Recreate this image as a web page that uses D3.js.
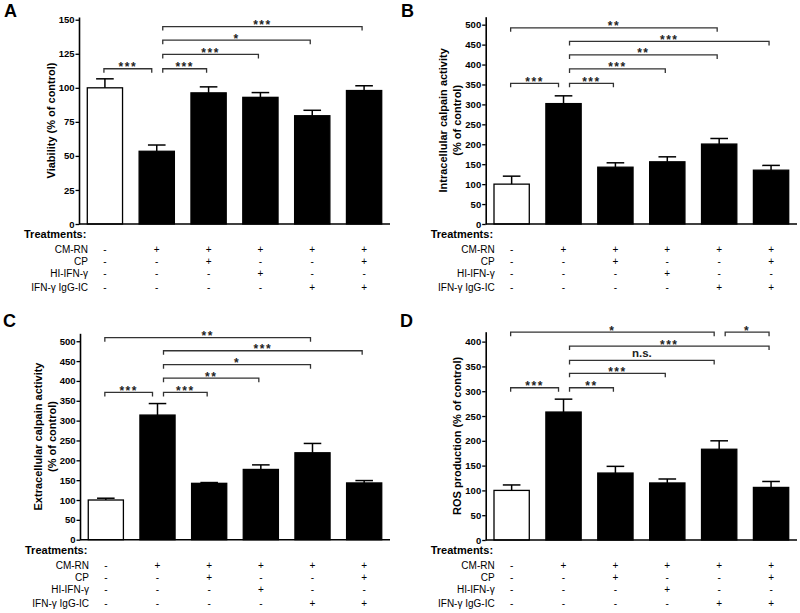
<!DOCTYPE html>
<html><head><meta charset="utf-8">
<script src="https://cdn.jsdelivr.net/npm/d3@7/dist/d3.min.js"></script>
<style>
body{margin:0;background:#fff;}
text{font-family:"Liberation Sans",Arial,sans-serif;}
</style></head>
<body><svg id="chart" width="800" height="613"></svg>
<script>
// ---------- data ----------
const groups = ["Control","CM-RN","CM-RN+CP","CM-RN+HI-IFN-γ","CM-RN+IFN-γ IgG-IC","CM-RN+CP+IFN-γ IgG-IC"];

const viabilityMean = [100, 53.4, 96.3, 93, 79.5, 98];
const viabilityErr  = [6.6, 4.6, 4.4, 3.5, 4, 3.5];
const viabilityTicks = [0, 25, 50, 75, 100, 125, 150];
const viabilitySig = [[0,1,114,"***"],[1,2,114,"***"],[1,3,124.5,"***"],[1,4,135,"*"],[1,5,145,"***"]];

const intraMean = [100, 302, 142.5, 156, 200.5, 135];
const intraErr  = [20, 19.5, 11, 12.5, 14, 12];
const intraTicks = [0,50,100,150,200,250,300,350,400,450,500];
const intraSig = [[0,1,353,"***"],[1,2,353,"***"],[1,3,389,"***"],[1,4,424,"**"],[1,5,458,"***"],[0,4,492,"**"]];

const extraMean = [100, 314, 142, 177, 219, 143];
const extraErr  = [4.5, 29, 2, 11.5, 23.5, 6];
const extraTicks = [0,50,100,150,200,250,300,350,400,450,500];
const extraSig = [[0,1,371,"***"],[1,2,371,"***"],[1,3,407,"**"],[1,4,441,"*"],[1,5,476,"***"],[0,4,509,"**"]];

const rosMean = [100, 258, 135, 115, 183, 106];
const rosErr  = [11, 26, 13.5, 8, 17, 12];
const rosTicks = [0,50,100,150,200,250,300,350,400];
const rosSig = [[0,1,307,"***"],[1,2,307,"**"],[1,3,336,"***"],[1,4,362,"n.s."],[1,5,391,"***"],[0,4,419,"*"],[4,5,419,"*"]];

const treatmentRows = ["CM-RN","CP","HI-IFN-γ","IFN-γ IgG-IC"];
const treatmentSigns = [
  ["-","+","+","+","+","+"],
  ["-","-","+","-","-","+"],
  ["-","-","-","+","-","-"],
  ["-","-","-","-","+","+"]
];

// ---------- drawing ----------
const svg = d3.select("#chart");

function drawPanel(p){
  const g = svg.append("g");
  const x = d3.scaleBand().domain(groups).range([p.x0, p.x1]).paddingInner(0.32).paddingOuter(0.16);
  const y = d3.scaleLinear().domain([0, p.yMax]).range([p.yBottom, p.yTop]);
  const cx = i => x(groups[i]) + x.bandwidth()/2;

  // panel letter
  g.append("text").attr("x", p.letterX).attr("y", p.letterY).text(p.letter)
    .style("font-size","18px").style("font-weight","bold");

  // bars
  g.selectAll("rect.bar").data(p.mean).enter().append("rect")
    .attr("x",(d,i)=>x(groups[i])).attr("width",x.bandwidth())
    .attr("y",d=>y(d)).attr("height",d=>y(0)-y(d))
    .attr("fill",(d,i)=>i===0?"#fff":"#000")
    .attr("stroke","#000").attr("stroke-width",1.3);

  // error bars (upper only)
  const capW = x.bandwidth()/2;
  p.mean.forEach((m,i)=>{
    const top = y(m+p.err[i]);
    g.append("line").attr("x1",cx(i)).attr("x2",cx(i)).attr("y1",y(m)).attr("y2",top)
      .attr("stroke","#000").attr("stroke-width",1.5);
    g.append("line").attr("x1",cx(i)-capW/2).attr("x2",cx(i)+capW/2).attr("y1",top).attr("y2",top)
      .attr("stroke","#000").attr("stroke-width",1.5);
  });

  // y axis
  const ay = g.append("g").attr("transform",`translate(${p.x0},0)`)
    .call(d3.axisLeft(y).tickValues(p.ticks).tickSize(3.5).tickSizeOuter(0).tickPadding(1));
  ay.select(".domain").attr("stroke-width",1.6);
  ay.selectAll(".tick line").attr("stroke-width",1.3);
  ay.selectAll(".tick text").style("font-size","9.5px").style("font-weight","bold")
    .style("font-family","Liberation Sans, Arial, sans-serif").attr("fill","#000");

  // x axis line
  g.append("line").attr("x1",p.x0).attr("x2",p.x1).attr("y1",y(0)).attr("y2",y(0))
    .attr("stroke","#000").attr("stroke-width",1.6);

  // y label
  const midY = (p.yBottom + p.yTop)/2;
  p.ylabel.forEach((t,k)=>{
    const lx = p.x0 - (p.ylabel.length===2 ? (k===0?42.5:28.5) : 28.5);
    g.append("text").attr("transform",`translate(${lx},${midY}) rotate(-90)`)
      .attr("text-anchor","middle").attr("dominant-baseline","central")
      .style("font-size","11px").style("font-weight","bold").text(t);
  });

  // significance brackets
  const starts = new Set(p.sig.map(s=>s[0]));
  const ends = new Set(p.sig.map(s=>s[1]));
  p.sig.forEach(s=>{
    const [a,b,lvl,lab] = s;
    const xa = cx(a) + (ends.has(a) ? 6 : -1);
    const xb = cx(b) - (starts.has(b) ? 5 : 2);
    const yy = y(lvl);
    g.append("path").attr("d",`M${xa},${yy+4}V${yy}H${xb}V${yy+4}`)
      .attr("fill","none").attr("stroke","#333").attr("stroke-width",1.3);
    const isStar = lab.indexOf("*")>=0;
    g.append("text").attr("x",(xa+xb)/2).attr("y", isStar ? yy+2.5 : yy-3)
      .attr("text-anchor","middle")
      .style("font-size", isStar ? "12px" : "11.5px").style("font-weight","bold")
      .style("letter-spacing", isStar ? "1.5px" : "0px")
      .attr("fill","#222").text(lab);
  });

  // treatments table
  const y0 = y(0);
  g.append("text").attr("x",p.x0-55).attr("y",y0+10).attr("dominant-baseline","central")
    .style("font-size","11px").style("font-weight","bold").text("Treatments:");
  const rowOff = [25.3, 37.5, 49.8, 63.8];
  treatmentRows.forEach((r,ri)=>{
    g.append("text").attr("x",p.x0+9).attr("y",y0+rowOff[ri]).attr("dominant-baseline","central")
      .attr("text-anchor","end").style("font-size","10px").text(r);
    treatmentSigns[ri].forEach((sg,ci)=>{
      g.append("text").attr("x",cx(ci)).attr("y",y0+rowOff[ri]).attr("dominant-baseline","central")
        .attr("text-anchor","middle").style("font-size","10px").text(sg);
    });
  });
}

drawPanel({letter:"A", letterX:4, letterY:17, x0:79, x1:390, yTop:17, yBottom:224, yMax:152,
  mean:viabilityMean, err:viabilityErr, ticks:viabilityTicks, sig:viabilitySig,
  ylabel:["Viability (% of control)"]});
drawPanel({letter:"B", letterX:401, letterY:17, x0:485.7, x1:797, yTop:16.7, yBottom:224, yMax:520,
  mean:intraMean, err:intraErr, ticks:intraTicks, sig:intraSig,
  ylabel:["Intracellular calpain activity","(% of control)"]});
drawPanel({letter:"C", letterX:3, letterY:327, x0:80, x1:390, yTop:333.3, yBottom:539.7, yMax:520,
  mean:extraMean, err:extraErr, ticks:extraTicks, sig:extraSig,
  ylabel:["Extracellular calpain activity","(% of control)"]});
drawPanel({letter:"D", letterX:400, letterY:327, x0:485.7, x1:797, yTop:331.7, yBottom:540, yMax:420,
  mean:rosMean, err:rosErr, ticks:rosTicks, sig:rosSig,
  ylabel:["ROS production (% of control)"]});
</script></body></html>
